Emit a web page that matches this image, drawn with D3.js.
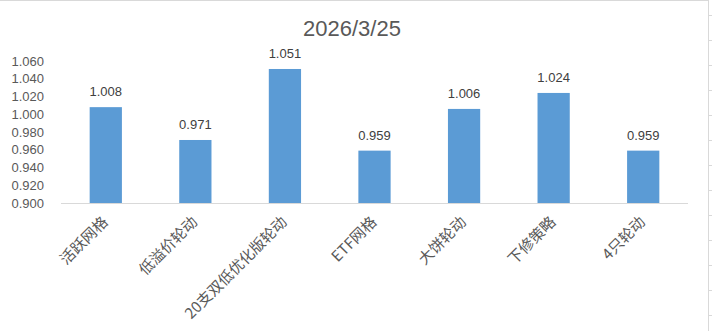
<!DOCTYPE html>
<html>
<head>
<meta charset="utf-8">
<script src="https://cdn.jsdelivr.net/npm/d3@7"></script>
<style>
  html, body { margin: 0; padding: 0; background: #fff; }
  svg { display: block; }
</style>
</head>
<body>
<svg id="chart" width="712" height="331"></svg>
<script>
// 資料
const categories = ["活跃网格", "低溢价轮动", "20支双低优化版轮动", "ETF网格", "大饼轮动", "下修策略", "4只轮动"];
const values = [1.008, 0.971, 1.051, 0.959, 1.006, 1.024, 0.959];
const yTicks = [0.900, 0.920, 0.940, 0.960, 0.980, 1.000, 1.020, 1.040, 1.060];
const title = "2026/3/25";

const svg = d3.select("#chart");
const width = +svg.attr("width");
const height = +svg.attr("height");

const margin = { top: 61, left: 61 };
const plotRight = 688;
const plotBottom = 203;

// 外框 (試算表格線)
svg.append("line")
    .attr("x1", 0).attr("x2", 708).attr("y1", 0.5).attr("y2", 0.5)
    .style("stroke", "#d9d9d9");
svg.append("line")
    .attr("x1", 708.5).attr("x2", 708.5).attr("y1", 0).attr("y2", height)
    .style("stroke", "#d9d9d9");
svg.selectAll("line.grid-mark")
    .data(d3.range(15.5, height, 25))
    .enter()
    .append("line")
    .attr("class", "grid-mark")
    .attr("x1", 709).attr("x2", width)
    .attr("y1", d => d).attr("y2", d => d)
    .style("stroke", "#d9d9d9");

const x = d3.scaleBand()
    .domain(categories)
    .range([margin.left, plotRight])
    .paddingInner(0.64)
    .paddingOuter(0.32);

const y = d3.scaleLinear()
    .domain([0.9, 1.06])
    .range([plotBottom, margin.top]);

// 標題
svg.append("text")
    .attr("x", 352)
    .attr("y", 36)
    .attr("text-anchor", "middle")
    .style("font-family", "'Liberation Sans', Arial, sans-serif")
    .style("font-size", "22px")
    .style("fill", "#595959")
    .text(title);

// Y 軸
const yAxis = d3.axisLeft(y)
    .tickValues(yTicks)
    .tickFormat(d3.format(".3f"))
    .tickSize(0)
    .tickPadding(0);

const gy = svg.append("g")
    .attr("transform", `translate(44,0)`)
    .call(yAxis);
gy.select(".domain").remove();
gy.selectAll("text")
    .style("font-family", "'Liberation Sans', Arial, sans-serif")
    .style("font-size", "13px")
    .style("fill", "#595959");

// 長條
svg.append("g")
    .selectAll("rect")
    .data(values)
    .enter()
    .append("rect")
    .attr("x", (d, i) => x(categories[i]))
    .attr("y", d => y(d))
    .attr("width", x.bandwidth())
    .attr("height", d => plotBottom - y(d))
    .style("fill", "#5b9bd5");

// 數值標籤
svg.append("g")
    .selectAll("text")
    .data(values)
    .enter()
    .append("text")
    .attr("x", (d, i) => x(categories[i]) + x.bandwidth() / 2)
    .attr("y", d => y(d) - 11)
    .attr("text-anchor", "middle")
    .style("font-family", "'Liberation Sans', Arial, sans-serif")
    .style("font-size", "13px")
    .style("fill", "#404040")
    .text(d => d3.format(".3f")(d));

// X 軸
const xAxis = d3.axisBottom(x).tickSize(0).tickPadding(0);
const gx = svg.append("g")
    .attr("transform", `translate(0,${plotBottom})`)
    .call(xAxis);
gx.select(".domain")
    .style("stroke", "#d9d9d9")
    .attr("d", `M${margin.left},0.5H${plotRight}`);
gx.selectAll(".tick text")
    .attr("text-anchor", "end")
    .attr("dy", null)
    .attr("y", 0)
    .attr("transform", "translate(3,20) rotate(-45)")
    .style("font-family", "'Noto Sans CJK SC', sans-serif")
    .style("font-size", "15px")
    .style("fill", "#595959");
</script>
</body>
</html>
